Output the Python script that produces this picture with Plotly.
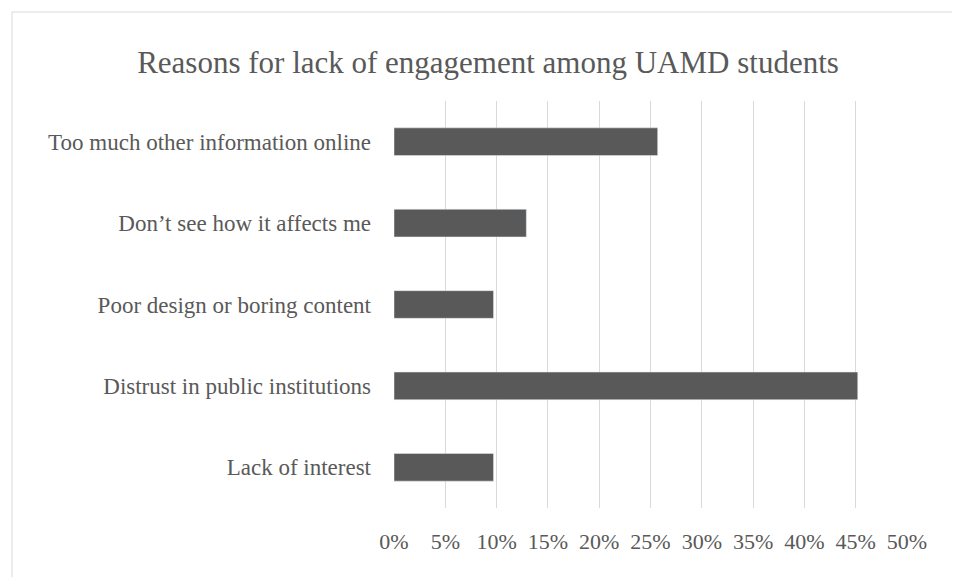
import plotly.graph_objects as go

categories = ["Lack of interest", "Distrust in public institutions", "Poor design or boring content",
              "Don’t see how it affects me", "Too much other information online"]
values = [0.097, 0.452, 0.097, 0.129, 0.257]
ticks = [i / 100 for i in range(0, 55, 5)]

fig = go.Figure(go.Bar(x=values, y=categories, orientation="h",
                       marker_color="#595959", width=0.34))

fig.update_layout(
    width=960, height=577,
    paper_bgcolor="white", plot_bgcolor="white",
    font=dict(family="Liberation Serif, Times New Roman, serif", size=23, color="#595959"),
    title=dict(text="Reasons for lack of engagement among UAMD students",
               x=0.5, y=0.925, xanchor="center", font=dict(size=31, color="#595959")),
    margin=dict(l=386, r=61, t=93, b=77),
    showlegend=False,
    shapes=[dict(type="rect", xref="paper", yref="paper", x0=-382/513, x1=1+57/513,
                 y0=-73/407, y1=1+89/407, line=dict(color="#d9d9d9", width=1))],
)
fig.update_xaxes(range=[0, 0.5], tickvals=ticks, tickformat=".0%", showgrid=True,
                 gridcolor="#d9d9d9", zeroline=False, ticks="", ticklabelstandoff=18,
                 tickfont=dict(size=22))
fig.update_yaxes(showgrid=False, ticks="", ticklabelstandoff=22, showline=False)

fig.write_html("out.html")
